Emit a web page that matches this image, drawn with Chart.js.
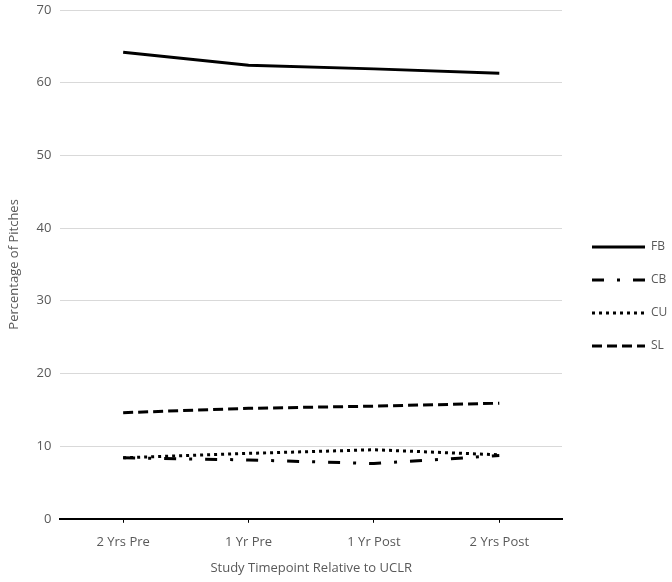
<!DOCTYPE html>
<html>
<head>
<meta charset="utf-8">
<script src="https://cdn.jsdelivr.net/npm/chart.js@4"></script>
<style>
    body { margin: 0; background: #fff; }
    canvas { display: block; }
</style>
</head>
<body>
<canvas id="pitchChart" width="672" height="582"></canvas>
<script>
// du lieu doc tu hinh
const timepoints = ['2 Yrs Pre', '1 Yr Pre', '1 Yr Post', '2 Yrs Post'];
const fbValues = [64.2, 62.4, 61.9, 61.3];
const cbValues = [8.4, 8.1, 7.6, 8.7];
const cuValues = [8.4, 9.0, 9.5, 8.8];
const slValues = [14.6, 15.2, 15.5, 15.9];
const yTicks = [0, 10, 20, 30, 40, 50, 60, 70];

const grey = '#595959';
const font = { family: 'Open Sans', size: 13 };

const ctx = document.getElementById('pitchChart').getContext('2d');
const pitchChart = new Chart(ctx, {
    type: 'line',
    data: {
        labels: timepoints,
        datasets: [
            { label: 'FB', data: fbValues, borderDash: [] },
            { label: 'CB', data: cbValues, borderDash: [12, 13, 3, 13] },
            { label: 'CU', data: cuValues, borderDash: [3, 4] },
            { label: 'SL', data: slValues, borderDash: [10, 5] }
        ].map(ds => Object.assign(ds, {
            borderColor: '#000', backgroundColor: '#000', borderWidth: 3,
            pointRadius: 0, tension: 0, fill: false
        }))
    },
    options: {
        responsive: false,
        animation: false,
        layout: { padding: { top: 0, right: 0, bottom: 2, left: 2 } },
        plugins: {
            tooltip: { enabled: false },
            legend: {
                position: 'right',
                maxWidth: 101,
                // tieu de rong de day cac muc xuong
                title: { display: true, text: '', font: { size: 10 }, padding: 0.5 },
                labels: {
                    usePointStyle: true,
                    pointStyle: 'line',
                    pointStyleWidth: 53,
                    boxHeight: 12,
                    padding: 21,
                    color: grey,
                    font: { family: 'Open Sans', size: 12 },
                    generateLabels: chart => {
                        const items = Chart.defaults.plugins.legend.labels.generateLabels(chart);
                        items.forEach(item => {
                            const ds = chart.data.datasets[item.datasetIndex];
                            item.lineDash = ds.borderDash;
                            item.lineWidth = 3;
                            item.strokeStyle = '#000';
                        });
                        return items;
                    }
                }
            }
        },
        scales: {
            x: {
                offset: true,
                grid: { drawOnChartArea: false, color: '#000', tickLength: 4 },
                border: { color: '#000', width: 2 },
                ticks: { color: grey, font: font, padding: 12 },
                title: { display: true, text: 'Study Timepoint Relative to UCLR', color: grey, font: { family: 'Open Sans', size: 13 }, padding: { top: -2 } }
            },
            y: {
                min: 0,
                max: 70,
                afterBuildTicks: axis => { axis.ticks = yTicks.map(v => ({ value: v })); },
                afterFit: axis => { axis.paddingTop = 10; },
                grid: { color: '#d9d9d9', lineWidth: 1, drawTicks: false },
                border: { display: false },
                ticks: { color: grey, font: font, padding: 9 },
                title: { display: true, text: 'Percentage of Pitches', color: grey, font: { family: 'Open Sans', size: 13 }, padding: { bottom: 6 } }
            },
            // truc an, chi de tao khoang trong truoc legend
            gap: {
                position: 'right',
                display: true,
                ticks: { display: false },
                grid: { display: false },
                border: { display: false },
                afterFit: axis => { axis.width = 9; }
            }
        }
    }
});
</script>
</body>
</html>
